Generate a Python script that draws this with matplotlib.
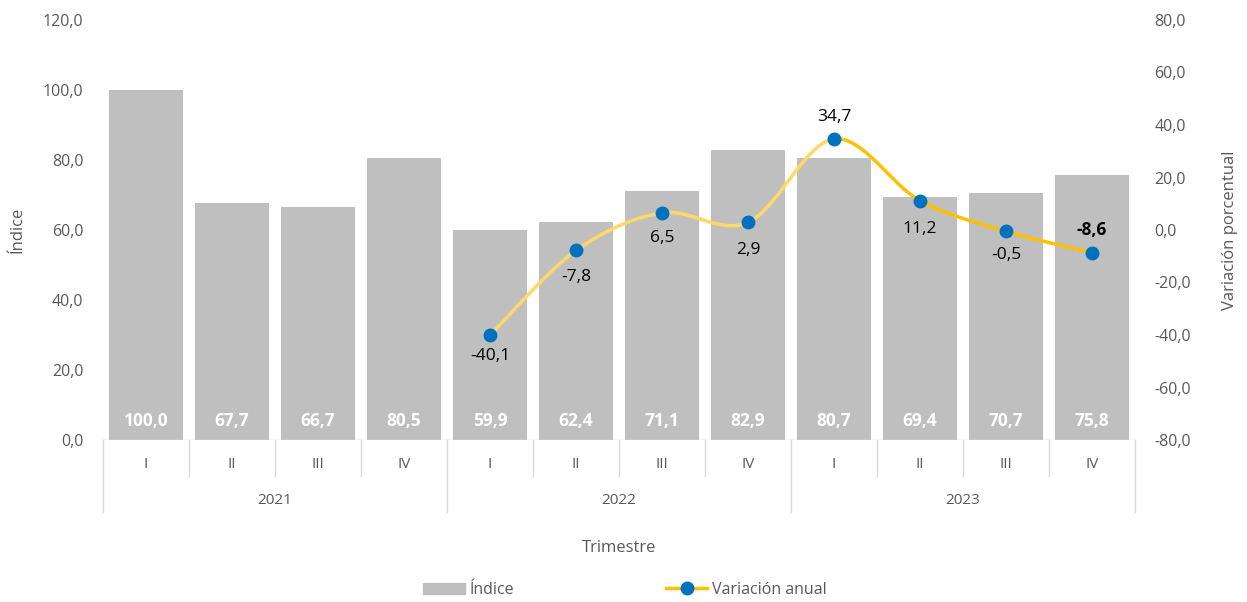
import numpy as np
import matplotlib
matplotlib.use("Agg")
import matplotlib.pyplot as plt
from matplotlib.patches import Patch
from matplotlib.lines import Line2D

plt.rcParams['font.family'] = ['Open Sans', 'DejaVu Sans']

years = ["2021", "2022", "2023"]
quarters = ["I", "II", "III", "IV"] * 3
indice = [100.0, 67.7, 66.7, 80.5, 59.9, 62.4, 71.1, 82.9, 80.7, 69.4, 70.7, 75.8]
variacion = [None, None, None, None, -40.1, -7.8, 6.5, 2.9, 34.7, 11.2, -0.5, -8.6]

W, H = 1247, 602
fig = plt.figure(figsize=(W / 100, H / 100), dpi=100)
L, R, B, T = 103, 1135, 440, 20
ax = fig.add_axes([L / W, 1 - B / H, (R - L) / W, (B - T) / H])
ax2 = ax.twinx()

tick_color = "#595959"
fs = 11.5

x = np.arange(len(indice))
ax.bar(x, indice, width=0.87, color="#BFBFBF", zorder=2)
ax.set_xlim(-0.5, len(indice) - 0.5)
ax.set_ylim(0, 120)
ax.set_yticks(np.arange(0, 121, 20))
ax.set_yticklabels([f"{v:.1f}".replace(".", ",") for v in np.arange(0, 121, 20)])
ax2.set_ylim(-80, 80)
ax2.set_yticks(np.arange(-80, 81, 20))
ax2.set_yticklabels([f"{v:.1f}".replace(".", ",") for v in np.arange(-80, 81, 20)])
for a in (ax, ax2):
    a.tick_params(axis="y", length=0, labelsize=fs, labelcolor=tick_color, pad=14)
    for s in a.spines.values():
        s.set_visible(False)
ax.set_xticks([])
ax2.set_xticks([])
ax.axhline(0, color="#D9D9D9", lw=1, zorder=3)

# bar labels
for xi, v in zip(x, indice):
    ax.text(xi, 5.5, f"{v:.1f}".replace(".", ","), ha="center", va="center",
            color="white", fontsize=12.5, fontweight="bold", zorder=4)

# smooth line (Bezier through points, Excel-like)
idx = [i for i, v in enumerate(variacion) if v is not None]
px = np.array(idx, dtype=float)
py = np.array([variacion[i] for i in idx])
n = len(px)
segs = []
for i in range(n - 1):
    p0 = np.array([px[max(i - 1, 0)], py[max(i - 1, 0)]])
    p1 = np.array([px[i], py[i]])
    p2 = np.array([px[i + 1], py[i + 1]])
    p3 = np.array([px[min(i + 2, n - 1)], py[min(i + 2, n - 1)]])
    c1 = p1 + (p2 - p0) / 6
    c2 = p2 - (p3 - p1) / 6
    t = np.linspace(0, 1, 40)[:, None]
    curve = (1 - t) ** 3 * p1 + 3 * (1 - t) ** 2 * t * c1 + 3 * (1 - t) * t ** 2 * c2 + t ** 3 * p2
    segs.append(curve)
for i, c in enumerate(segs):
    col = "#FFD966" if i < 4 else "#FFC000"
    ax2.plot(c[:, 0], c[:, 1], color=col, lw=2.5, zorder=5, solid_capstyle="round")
ax2.plot(px, py, ls="none", marker="o", ms=9, color="#0070C0", zorder=6)

# point labels
offsets = [-21, -27, -25, -28, 22, -28, -24, 23]
for i, (xx, yy) in enumerate(zip(px, py)):
    lbl = f"{yy:.1f}".replace(".", ",")
    ax2.annotate(lbl, (xx, yy), xytext=(0, -offsets[i] * -1 if False else offsets[i]),
                 textcoords="offset pixels",
                 ha="center", va="center", fontsize=12.5,
                 color="black", fontweight="bold" if i == n - 1 else "normal", zorder=7)

# category axis
xt = ax.get_xaxis_transform()
hpx = B - T
def fy(p):
    return -p / hpx
for xi, q in zip(x, quarters):
    ax.text(xi, fy(25), q, transform=xt, ha="center", va="center", fontsize=fs - 0.5,
            color=tick_color, clip_on=False)
for b in range(len(indice) + 1):
    bx = b - 0.5
    depth = 72 if b % 4 == 0 else 36
    ax.plot([bx, bx], [0, fy(depth)], transform=xt, color="#D9D9D9", lw=1, clip_on=False)
for yi, yr in enumerate(years):
    ax.text(yi * 4 + 1.5, fy(61), yr, transform=xt, ha="center", va="center",
            fontsize=fs - 0.5, color=tick_color, clip_on=False)

fig.text((L + R) / 2 / W, 1 - 548 / H, "Trimestre", ha="center", va="center",
         fontsize=fs + 0.5, color=tick_color)
fig.text(18 / W, 1 - 230 / H, "Índice", rotation=90, ha="center", va="center",
         fontsize=fs + 0.5, color=tick_color)
fig.text(1230 / W, 1 - 230 / H, "Variación porcentual", rotation=90, ha="center", va="center",
         fontsize=fs + 0.5, color=tick_color)

handles = [Patch(color="#BFBFBF"),
           Line2D([0], [0], color="#FFC000", lw=2.5, marker="o", ms=9,
                  markerfacecolor="#0070C0", markeredgecolor="#0070C0")]
leg = fig.legend(handles, ["Índice", "Variación anual"], loc="center",
                 bbox_to_anchor=(625 / W, 1 - 590 / H), ncol=2, frameon=False,
                 fontsize=fs, handlelength=2.6, handletextpad=0.3, columnspacing=9.5,
                 labelcolor=tick_color)

fig.savefig("out.png", dpi=100)
